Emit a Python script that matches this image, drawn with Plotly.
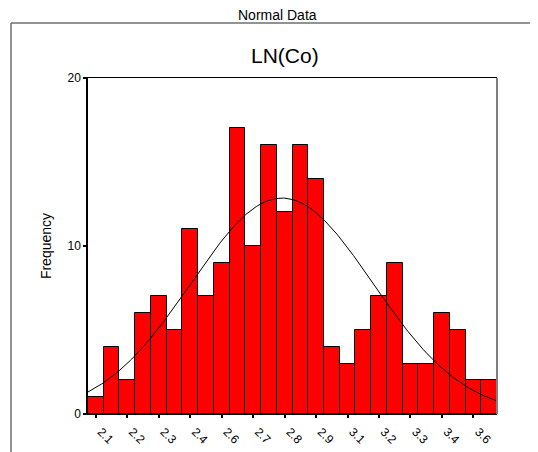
"""Histogram of LN(Co) with fitted normal curve."""
import numpy as np
import plotly.graph_objects as go

W, H = 538, 452
OFF = 8  # page body margin the figure sits inside
FW, FH = W - OFF, H - OFF

# bar heights (frequency per bin)
counts = [1, 4, 2, 6, 7, 5, 11, 7, 9, 17, 10, 16, 12,
          16, 14, 4, 3, 5, 7, 9, 3, 3, 6, 5, 2, 2]
# labels shown under every second bar
tick_labels = ["2.1", "2.2", "2.3", "2.4", "2.6", "2.7", "2.8",
               "2.9", "3.1", "3.2", "3.3", "3.4", "3.6"]
y_ticks = [0, 10, 20]

n_bins = len(counts)
centers = np.arange(n_bins) + 0.5
c = np.array(counts, dtype=float)

# normal curve fitted to the binned data
total = c.sum()
mu = (centers * c).sum() / total
sd = np.sqrt(((centers - mu) ** 2 * c).sum() / (total - 1))
xs = np.linspace(0, n_bins, 300)
ys = total / (sd * np.sqrt(2 * np.pi)) * np.exp(-0.5 * ((xs - mu) / sd) ** 2)


def px(x):
    return (x - OFF) / FW


def py(y):
    return 1 - (y - OFF) / FH


fig = go.Figure()
fig.add_trace(go.Bar(
    x=centers,
    y=counts,
    width=1,
    marker=dict(color="#FF0000", line=dict(color="black", width=1)),
    hoverinfo="y",
))
fig.add_trace(go.Scatter(
    x=xs, y=ys, mode="lines",
    line=dict(color="black", width=1),
    hoverinfo="skip",
))

font = "Liberation Sans, Arial, sans-serif"
x0, x1 = px(88), px(497)
y0, y1 = py(414), py(78)

fig.update_layout(
    width=FW, height=FH,
    margin=dict(l=0, r=0, t=0, b=0),
    paper_bgcolor="white",
    plot_bgcolor="white",
    showlegend=False,
    bargap=0,
    font=dict(family=font, color="black", size=12),
    xaxis=dict(
        domain=[x0, x1],
        range=[0, n_bins],
        tickvals=centers[::2],
        ticktext=tick_labels,
        tickangle=45,
        ticklabelshift=5,
        ticklabelstandoff=2,
        ticks="outside", ticklen=3, tickwidth=2, tickcolor="black",
        showline=True, linecolor="black", linewidth=1, mirror=True,
        showgrid=False, zeroline=False, automargin=False,
        tickfont=dict(size=12),
    ),
    yaxis=dict(
        domain=[y0, y1],
        range=[0, 20],
        tickvals=y_ticks,
        ticks="outside", ticklen=3, tickwidth=2, tickcolor="black",
        showline=True, linecolor="black", linewidth=1.5,
        showgrid=False, zeroline=False, automargin=False,
        tickfont=dict(size=12),
        title=dict(text="Frequency", font=dict(size=14), standoff=13),
    ),
    shapes=[
        # right border of plot area
        dict(type="line", xref="paper", yref="paper",
             x0=x1, x1=x1, y0=y0, y1=y1,
             line=dict(color="#7f7f7f", width=2)),
        # outer frame
        dict(type="line", xref="paper", yref="paper",
             x0=px(11), x1=px(11), y0=-0.05, y1=py(23),
             line=dict(color="#6e6e6e", width=1.5)),
        dict(type="line", xref="paper", yref="paper",
             x0=px(11), x1=1.05, y0=py(23), y1=py(23),
             line=dict(color="#6e6e6e", width=1.5)),
    ],
    annotations=[
        dict(text="Normal Data", xref="paper", yref="paper",
             x=px(277), y=py(14.5), showarrow=False,
             xanchor="center", yanchor="middle", font=dict(size=14)),
        dict(text="LN(Co)", xref="paper", yref="paper",
             x=px(285), y=py(55), showarrow=False,
             xanchor="center", yanchor="middle", font=dict(size=21)),
    ],
)

fig.write_html("out.html")
